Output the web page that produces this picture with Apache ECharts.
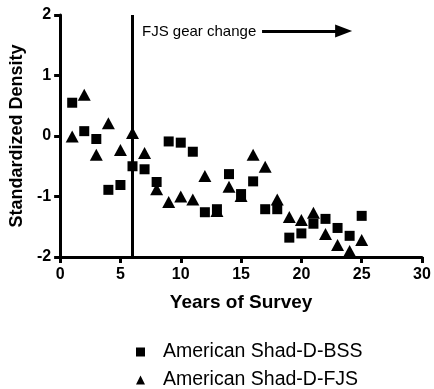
<!DOCTYPE html>
<html>
<head>
<meta charset="utf-8">
<script src="https://cdn.jsdelivr.net/npm/echarts@6/dist/echarts.min.js"></script>
<style>
  html, body { margin: 0; padding: 0; background: #fff; }
  #chart { width: 434px; height: 389px; }
</style>
</head>
<body>
<div id="chart"></div>
<script>
// Survey years and standardized densities for the two American shad indices
const years = [1, 2, 3, 4, 5, 6, 7, 8, 9, 10, 11, 12, 13, 14, 15, 16, 17, 18, 19, 20, 21, 22, 23, 24, 25];
const bssDensity = [0.55, 0.08, -0.05, -0.89, -0.81, -0.50, -0.55, -0.76, -0.09, -0.11, -0.26, -1.26, -1.21,
                    -0.63, -0.96, -0.75, -1.21, -1.21, -1.68, -1.61, -1.45, -1.37, -1.52, -1.65, -1.32];
const fjsDensity = [-0.01, 0.68, -0.31, 0.21, -0.23, 0.05, -0.28, -0.88, -1.09, -1.00, -1.05, -0.66, -1.24,
                    -0.84, -0.99, -0.31, -0.51, -1.05, -1.34, -1.39, -1.27, -1.62, -1.80, -1.90, -1.72];
const seriesNames = ['American Shad-D-BSS', 'American Shad-D-FJS'];
const xTicks = { min: 0, max: 30, interval: 5 };
const yTicks = { min: -2, max: 2, interval: 1 };
const gearChangeYear = 6;
const arrowStart = [16.74, 1.735];
const arrowEnd = [23.5, 1.735];

const FONT = '"Liberation Sans", Arial, sans-serif';

const pair = (xs, ys) => xs.map((x, i) => [x, ys[i]]);

const axisCommon = {
  axisLine: { show: true, onZero: false, lineStyle: { color: '#000', width: 3 } },
  axisTick: { show: true, inside: false, length: 6, lineStyle: { color: '#000', width: 3 } },
  splitLine: { show: false },
  nameLocation: 'middle',
  nameTextStyle: { fontFamily: FONT, fontWeight: 'bold', fontSize: 18, color: '#000' },
  axisLabel: { fontFamily: FONT, fontWeight: 'bold', fontSize: 16, color: '#000' }
};

// one legend block per series, stacked vertically
const legendBlock = (name, icon, top) => ({
  orient: 'vertical',
  left: 131,
  top: top,
  itemWidth: 9,
  itemHeight: 9,
  selectedMode: false,
  textStyle: { fontFamily: FONT, fontSize: 19.5, color: '#000', padding: [0, 0, 0, 13] },
  data: [{ name: name, icon: icon }]
});

const chart = echarts.init(document.getElementById('chart'), null, { renderer: 'canvas' });

chart.setOption({
  animation: false,
  backgroundColor: '#fff',
  grid: { left: 60, right: 12, top: 15, bottom: 132, containLabel: false },
  xAxis: Object.assign({}, axisCommon, {
    type: 'value',
    min: xTicks.min, max: xTicks.max, interval: xTicks.interval,
    name: 'Years of Survey',
    nameGap: 36,
    nameTextStyle: Object.assign({}, axisCommon.nameTextStyle, { fontSize: 19 }),
    axisLabel: Object.assign({}, axisCommon.axisLabel, { margin: 10 })
  }),
  yAxis: Object.assign({}, axisCommon, {
    type: 'value',
    min: yTicks.min, max: yTicks.max, interval: yTicks.interval,
    name: 'Standardized Density',
    nameGap: 34,
    axisLabel: Object.assign({}, axisCommon.axisLabel, { margin: 9 })
  }),
  legend: [
    legendBlock(seriesNames[0], 'rect', 337),
    legendBlock(seriesNames[1], 'triangle', 365)
  ],
  graphic: [
    {
      type: 'text',
      left: 142,
      top: 24,
      style: { text: 'FJS gear change', fontFamily: FONT, fontSize: 15, fill: '#000' }
    }
  ],
  series: [
    {
      name: seriesNames[0],
      type: 'scatter',
      symbol: 'rect',
      symbolSize: 10,
      z: 4,
      itemStyle: { color: '#000', opacity: 1 },
      data: pair(years, bssDensity)
    },
    {
      name: seriesNames[1],
      type: 'scatter',
      symbol: 'triangle',
      symbolSize: [13, 12],
      z: 3,
      itemStyle: { color: '#000', opacity: 1 },
      data: pair(years, fjsDensity),
      markLine: {
        silent: true,
        animation: false,
        label: { show: false },
        lineStyle: { color: '#000', width: 3, type: 'solid', opacity: 1 },
        data: [
          [
            { coord: [gearChangeYear, yTicks.min], symbol: 'none' },
            { coord: [gearChangeYear, yTicks.max], symbol: 'none' }
          ],
          [
            { coord: arrowStart, symbol: 'none' },
            { coord: arrowEnd, symbol: 'triangle', symbolSize: [13, 17] }
          ]
        ]
      }
    }
  ]
});
</script>
</body>
</html>
